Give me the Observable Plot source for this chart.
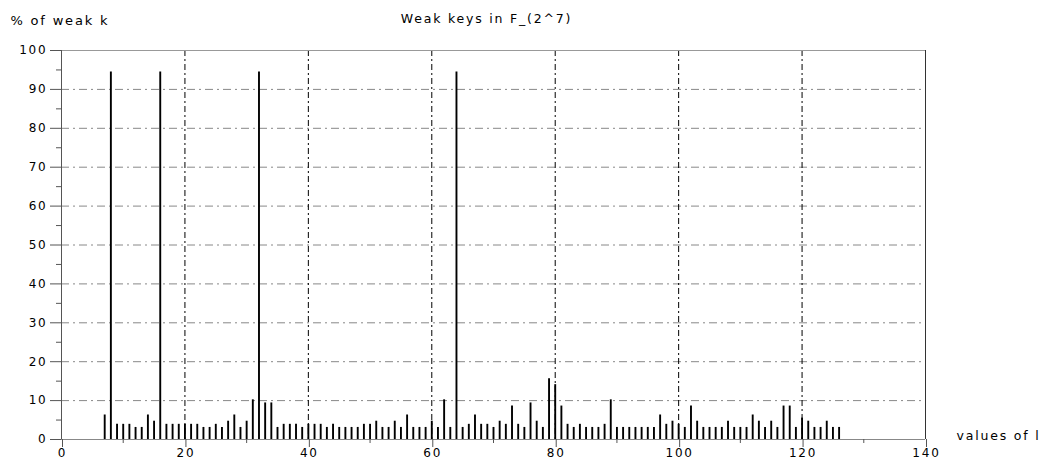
<!DOCTYPE html>
<html><head><meta charset="utf-8">
<script src="https://cdn.jsdelivr.net/npm/d3@7"></script>
<script src="https://cdn.jsdelivr.net/npm/@observablehq/plot@0.6"></script>
<style>body{margin:0;background:#fff;} svg{display:block}</style>
</head><body><div id="chart"></div>
<script>
const lValues = [
  7, 8, 9, 10, 11, 12, 13, 14, 15, 16,
  17, 18, 19, 20, 21, 22, 23, 24, 25, 26,
  27, 28, 29, 30, 31, 32, 33, 34, 35, 36,
  37, 38, 39, 40, 41, 42, 43, 44, 45, 46,
  47, 48, 49, 50, 51, 52, 53, 54, 55, 56,
  57, 58, 59, 60, 61, 62, 63, 64, 65, 66,
  67, 68, 69, 70, 71, 72, 73, 74, 75, 76,
  77, 78, 79, 80, 81, 82, 83, 84, 85, 86,
  87, 88, 89, 90, 91, 92, 93, 94, 95, 96,
  97, 98, 99, 100, 101, 102, 103, 104, 105, 106,
  107, 108, 109, 110, 111, 112, 113, 114, 115, 116,
  117, 118, 119, 120, 121, 122, 123, 124, 125, 126
];
const weakPct = [
  6.3, 94.5, 3.9, 3.9, 3.9, 3.1, 3.1, 6.3, 4.7, 94.5,
  3.9, 3.9, 3.9, 3.9, 3.9, 3.9, 3.1, 3.1, 3.9, 3.1,
  4.7, 6.3, 3.1, 4.7, 10.2, 94.5, 9.4, 9.4, 3.1, 3.9,
  3.9, 3.9, 3.1, 3.9, 3.9, 3.9, 3.1, 3.9, 3.1, 3.1,
  3.1, 3.1, 3.9, 3.9, 4.7, 3.1, 3.1, 4.7, 3.1, 6.3,
  3.1, 3.1, 3.1, 4.7, 3.1, 10.2, 3.1, 94.5, 3.1, 3.9,
  6.3, 3.9, 3.9, 3.1, 4.7, 3.9, 8.6, 3.9, 3.1, 9.4,
  4.7, 3.1, 15.6, 14.1, 8.6, 3.9, 3.1, 3.9, 3.1, 3.1,
  3.1, 3.9, 10.2, 3.1, 3.1, 3.1, 3.1, 3.1, 3.1, 3.1,
  6.3, 3.9, 4.7, 3.9, 3.1, 8.6, 4.7, 3.1, 3.1, 3.1,
  3.1, 4.7, 3.1, 3.1, 3.1, 6.3, 4.7, 3.1, 4.7, 3.1,
  8.6, 8.6, 3.1, 5.5, 4.7, 3.1, 3.1, 4.7, 3.1, 3.1
];
const xTickLabels = [0, 20, 40, 60, 80, 100, 120, 140];
const xMinorTicks = [10, 30, 50, 70, 90, 110, 130];
const yTickLabels = [0, 10, 20, 30, 40, 50, 60, 70, 80, 90, 100];
const yMinorTicks = [5, 15, 25, 35, 45, 55, 65, 75, 85, 95];
const xGrid = [20, 40, 60, 80, 100, 120];
const yGrid = [10, 20, 30, 40, 50, 60, 70, 80, 90];
const titleText = "Weak keys in F_(2^7)";
const yTitle = "% of weak k";
const xTitle = "values of l";

const data = lValues.map((l, i) => ({l, pct: weakPct[i]}));
const blank = () => "";

const chart = Plot.plot({
  width: 1048, height: 467,
  marginLeft: 61, marginRight: 123, marginTop: 50, marginBottom: 28,
  style: {fontFamily: "DejaVu Sans, sans-serif", fontSize: "12px", letterSpacing: "1.8px", background: "#fff", color: "#000", overflow: "visible"},
  x: {domain: [0, 140], label: null},
  y: {domain: [0, 100], label: null},
  marks: [
    Plot.ruleY(yGrid, {stroke: "#888", strokeDasharray: "8,4,2,4"}),
    Plot.ruleX(xGrid, {stroke: "#000", strokeDasharray: "6,3,2,3"}),
    Plot.ruleY([100], {stroke: "#999"}),
    Plot.ruleX([140], {stroke: "#333"}),
    Plot.ruleX(data, {x: "l", y1: 0, y2: "pct", stroke: "#000", strokeWidth: 1.9}),
    Plot.ruleY([0], {stroke: "#888"}),
    Plot.ruleX([0], {stroke: "#555"}),
    Plot.axisX({ticks: xTickLabels, tickSize: 8, tickPadding: 1, stroke: "#555", dx: 1}),
    Plot.axisX({ticks: xMinorTicks, tickSize: 4, tickFormat: blank, stroke: "#555"}),
    Plot.axisY({ticks: yTickLabels, tickSize: 11, tickPadding: 3, stroke: "#555"}),
    Plot.axisY({ticks: yMinorTicks, tickSize: 5, tickFormat: blank, stroke: "#555"}),
    Plot.text([yTitle], {frameAnchor: "top-left", textAnchor: "start", dx: -51, dy: -35, fontSize: 13}),
    Plot.text([titleText], {frameAnchor: "top", dx: -7, dy: -36, fontSize: 12.5}),
    Plot.text([xTitle], {frameAnchor: "bottom-right", textAnchor: "start", dx: 31, dy: 0, fontSize: 12.5})
  ]
});
document.getElementById("chart").appendChild(chart);
</script>
</body></html>
